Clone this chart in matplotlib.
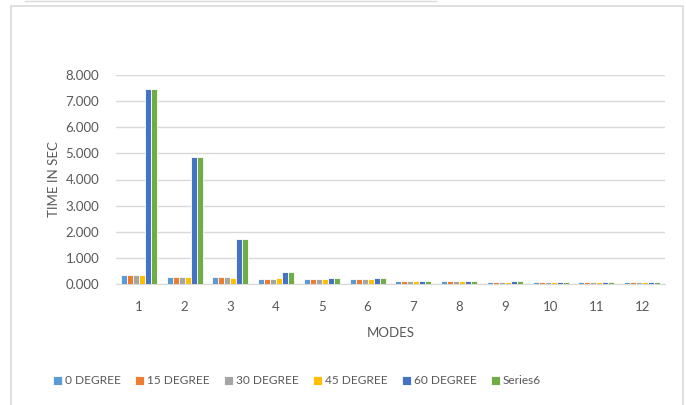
import matplotlib.pyplot as plt
import numpy as np
from matplotlib.patches import Rectangle
from matplotlib.lines import Line2D

modes = ["1", "2", "3", "4", "5", "6", "7", "8", "9", "10", "11", "12"]
series_names = ["0 DEGREE", "15 DEGREE", "30 DEGREE", "45 DEGREE", "60 DEGREE", "Series6"]
deg0 = [0.34, 0.28, 0.28, 0.18, 0.18, 0.18, 0.13, 0.13, 0.07, 0.06, 0.06, 0.06]
deg15 = [0.34, 0.28, 0.28, 0.18, 0.18, 0.18, 0.13, 0.13, 0.07, 0.06, 0.06, 0.06]
deg30 = [0.34, 0.28, 0.28, 0.18, 0.18, 0.18, 0.13, 0.13, 0.07, 0.06, 0.06, 0.06]
deg45 = [0.34, 0.28, 0.23, 0.24, 0.18, 0.18, 0.13, 0.13, 0.07, 0.06, 0.06, 0.06]
deg60 = [7.48, 4.85, 1.74, 0.46, 0.24, 0.24, 0.13, 0.13, 0.13, 0.06, 0.06, 0.06]
series6 = [7.48, 4.85, 1.74, 0.46, 0.24, 0.24, 0.13, 0.13, 0.13, 0.06, 0.06, 0.06]
colors = ["#5b9bd5", "#ed7d31", "#a5a5a5", "#ffc000", "#4472c4", "#70ad47"]

plt.rcParams['font.family'] = ['Lato', 'DejaVu Sans']
txt = "#595959"

fig = plt.figure(figsize=(6.86, 4.05), dpi=100)
ax = fig.add_axes([116/686, 1-284/405, (665-116)/686, (284-75)/405])

data = [deg0, deg15, deg30, deg45, deg60, series6]
x = np.arange(len(modes))
w = 0.131
for i, (vals, c, name) in enumerate(zip(data, colors, series_names)):
    ax.bar(x + (i - 2.5) * w, vals, w, color=c, edgecolor="white", linewidth=0.6,
           label=name, zorder=3)

ax.set_xlim(-0.5, len(modes) - 0.5)
ax.set_ylim(0, 8)
ax.set_yticks(np.arange(0, 9, 1))
ax.set_yticklabels([f"{v:.3f}" for v in range(9)])
ax.set_xticks(x)
ax.set_xticklabels(modes)
ax.grid(axis="y", color="#d9d9d9", linewidth=1, zorder=0)
for s in ["top", "right", "left"]:
    ax.spines[s].set_visible(False)
ax.spines["bottom"].set_color("#d9d9d9")
ax.tick_params(axis="both", length=0, labelsize=9.5, colors=txt)
ax.tick_params(axis="y", pad=12)
ax.tick_params(axis="x", pad=12)
ax.set_ylabel("TIME IN SEC", fontsize=9.5, color=txt, labelpad=4)
ax.set_xlabel("MODES", fontsize=9.5, color=txt, labelpad=10)

leg = fig.legend(loc="center", bbox_to_anchor=(297/686, 1-381/405), ncol=6, frameon=False,
                 fontsize=8.6, handlelength=0.75, handleheight=0.75, handletextpad=0.25,
                 columnspacing=1.2, borderaxespad=0)
for t in leg.get_texts():
    t.set_color(txt)

# chart border
fig.add_artist(Rectangle((11/686, -0.05), (683-11)/686, 1.05-6/405, transform=fig.transFigure,
                         fill=False, edgecolor="#d9d9d9", linewidth=1.2))
fig.add_artist(Line2D([25/686, 436/686], [1-1/405, 1-1/405], transform=fig.transFigure,
                      color="#d9d9d9", linewidth=1))

fig.savefig("out.png", dpi=100)
